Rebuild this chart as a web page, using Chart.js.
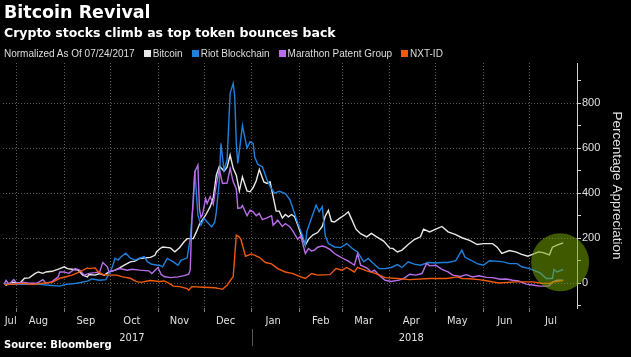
<!DOCTYPE html>
<html><head><meta charset="utf-8">
<script src="https://cdn.jsdelivr.net/npm/chart.js@4"></script>
<style>
html,body{margin:0;padding:0;background:#000;}
#wrap{position:relative;width:631px;height:357px;overflow:hidden;background:#000;}
canvas{position:absolute;left:0;top:0;}
.t{position:absolute;color:#fff;white-space:nowrap;}
#title{left:4px;top:2px;font:bold 17.5px 'DejaVu Sans',sans-serif;}
#sub{left:4px;top:25px;font:bold 12.5px 'DejaVu Sans',sans-serif;}
#legend{left:4px;top:46px;font:10px 'Liberation Sans',sans-serif;color:#ddd;display:flex;align-items:center;height:14px;}
#legend .sw{display:inline-block;width:7px;height:7px;margin:0 2px 0 9px;}
#source{left:4px;top:339px;font:bold 10px 'DejaVu Sans',sans-serif;}
</style></head><body>
<div id="wrap">
<canvas id="c" width="631" height="357"></canvas>
<div class="t" id="title">Bitcoin Revival</div>
<div class="t" id="sub">Crypto stocks climb as top token bounces back</div>
<div class="t" id="legend"></div>
<div class="t" id="source">Source: Bloomberg</div>
</div>
<script>
const START = '2017-07-24';
const legendNote = 'Normalized As Of 07/24/2017';
const seriesNames = ['Bitcoin', 'Riot Blockchain', 'Marathon Patent Group', 'NXT-ID'];
const seriesColors = ['#e8e8e8', '#1f80de', '#b86ee8', '#ef5a0c'];

// day offsets from START and % appreciation
const btcDays = [0,1,5,10,13,16,20,22,25,27,31,36,39,41,44,48,51,54,55,59,62,65,68,72,75,78,82,85,88,91,95,98,99,101,103,108,111,114,117,119,123,125,127,131,134,136,138,140,143,145,147,149,151,153,155,158,160,162,164,166,169,171,173,175,177,179,181,183,185,187,189,191,193,196,198,201,204,207,209,211,213,215,218,222,224,226,229,232,236,239,243,247,251,253,256,259,263,267,271,273,277,281,285,289,294,298,303,308,312,318,321,324,329,333,337,341,344,348,351,355,357,360,364];
const btcVals = [0,-8,4,0,22,24,44,50,44,50,53,65,73,65,62,58,36,28,39,36,43,36,50,58,68,80,95,98,110,112,115,124,139,152,161,157,140,158,184,198,198,228,262,302,340,380,480,520,498,515,569,510,480,410,472,410,406,425,455,505,450,443,450,385,320,320,290,305,295,305,295,260,221,169,195,215,225,252,298,324,275,272,287,305,317,287,240,220,206,221,204,187,156,155,139,147,172,194,206,240,228,240,252,228,216,202,190,172,176,176,160,132,145,139,128,120,128,139,136,126,160,169,179];

const riotDays = [0,5,14,23,29,36,40,47,54,57,62,66,70,72,74,76,79,82,85,88,91,93,96,99,101,103,106,110,113,115,119,121,123,124,126,128,130,132,135,137,138,140,141,143,145,147,149,150,151,152,155,158,160,162,163,165,168,171,173,176,179,183,186,188,191,194,196,197,200,203,205,207,209,211,215,219,223,227,230,232,234,237,240,244,248,252,256,259,263,267,271,276,281,285,289,294,298,300,304,308,312,316,322,325,329,334,337,342,349,353,357,358,360,364];
const riotVals = [0,-5,-4,-5,-9,-13,-5,0,9,19,13,16,68,111,103,118,133,111,103,111,118,96,84,81,80,73,110,95,80,102,113,198,361,500,302,258,287,272,250,272,317,458,621,502,547,843,887,828,621,532,700,600,628,621,560,528,517,460,430,400,408,398,370,330,268,215,169,230,290,347,317,340,210,176,161,158,176,152,139,117,95,110,90,65,65,70,83,70,95,85,80,92,90,92,92,100,147,115,102,87,80,100,97,95,87,87,73,65,46,21,21,61,50,61];

const marDays = [0,1,3,6,8,12,16,21,25,27,31,35,36,39,42,46,49,52,55,59,62,64,67,68,72,75,80,83,88,94,96,100,102,104,108,113,117,120,121,122,124,126,127,128,129,131,132,134,136,138,140,142,145,147,149,151,152,154,155,158,160,162,164,166,168,171,174,175,178,181,183,186,188,191,193,196,198,200,202,204,207,209,212,215,217,220,224,228,230,232,236,239,241,244,248,252,257,260,264,268,272,275,277,281,285,289,292,297,301,305,309,314,318,323,327,331,335,340,345,349,353,355,357,360,364];
const marVals = [0,13,-5,16,0,4,0,0,16,0,7,28,50,50,44,65,58,36,44,47,50,92,73,50,58,65,58,62,58,55,43,70,40,30,25,28,34,40,60,270,495,524,330,292,305,376,354,385,350,440,505,443,445,510,450,420,332,335,345,300,324,317,300,310,282,290,300,258,280,252,265,250,230,195,210,132,154,143,147,160,165,161,150,132,124,112,98,80,132,80,68,50,58,36,13,8,14,21,40,36,43,88,77,80,62,50,36,30,38,28,33,26,25,18,19,13,10,-4,-9,-13,-13,-11,5,13,13];

const nxtDays = [0,5,12,18,25,31,36,40,44,49,54,55,59,61,64,68,73,77,82,86,89,93,95,101,104,107,110,114,119,120,122,130,137,140,142,145,149,151,153,154,157,161,166,170,174,178,183,188,191,196,200,204,212,216,220,223,228,230,236,242,248,256,264,277,288,295,298,303,309,312,322,333,344,350,355,358,364];
const nxtVals = [-5,-5,0,-5,0,4,22,29,36,50,68,65,68,50,39,36,36,28,22,7,4,10,12,8,10,0,-13,-15,-24,-31,-15,-18,-20,-24,-27,-9,30,213,205,195,120,130,115,92,86,65,50,43,34,21,43,36,38,65,58,70,50,70,55,43,25,21,16,21,21,28,21,20,16,13,1,6,6,0,-1,6,12];

// highlight circle (data coords) and radius in px
const highlightPoint = {day: 362, value: 93, radius: 29};

// axis labels
const monthStarts = ['2017-08-01','2017-09-01','2017-10-01','2017-11-01','2017-12-01','2018-01-01','2018-02-01','2018-03-01','2018-04-01','2018-05-01','2018-06-01','2018-07-01'];
const monthLabelDates = ['2017-07-28','2017-08-15','2017-09-15','2017-10-15','2017-11-15','2017-12-15','2018-01-15','2018-02-15','2018-03-15','2018-04-15','2018-05-15','2018-06-15','2018-07-15'];
const monthLabels = ['Jul','Aug','Sep','Oct','Nov','Dec','Jan','Feb','Mar','Apr','May','Jun','Jul'];
const yearLabels = ['','','','2017','','','','','','2018','','',''];
const yearBreak = '2018-01-01';
const yAxisTitle = 'Percentage Appreciation';

const DAY = 86400000;
const t0 = Date.parse(START + 'T00:00:00Z');
const dayOf = s => Math.round((Date.parse(s + 'T00:00:00Z') - t0) / DAY);

const startDays = monthStarts.map(dayOf);
const labelDays = monthLabelDates.map(dayOf);
const labelMap = {};
labelDays.forEach((d, i) => { labelMap[d] = yearLabels[i] ? [monthLabels[i], yearLabels[i]] : monthLabels[i]; });
const startSet = new Set(startDays);

// legend
const lg = document.getElementById('legend');
const note = document.createElement('span'); note.textContent = legendNote; lg.appendChild(note);
seriesNames.forEach((n, i) => {
  const sw = document.createElement('span'); sw.className = 'sw'; sw.style.background = seriesColors[i];
  const tx = document.createElement('span'); tx.textContent = n;
  lg.appendChild(sw); lg.appendChild(tx);
});

const pts = (ds, vs) => ds.map((d, i) => ({x: d, y: vs[i]}));
const allSeries = [[btcDays, btcVals], [riotDays, riotVals], [marDays, marVals], [nxtDays, nxtVals]];

const datasets = allSeries.map((s, i) => ({
  type: 'line', label: seriesNames[i], data: pts(s[0], s[1]),
  borderColor: seriesColors[i], borderWidth: 1.4, pointRadius: 0, tension: 0, fill: false,
  order: 4 - i
}));
datasets.push({
  type: 'bubble', label: 'highlight',
  data: [{x: highlightPoint.day, y: highlightPoint.value, r: highlightPoint.radius}],
  backgroundColor: 'rgba(118,170,0,0.52)', borderWidth: 0, clip: false, order: 0
});

const yearSep = {
  id: 'yearSep',
  afterDraw(chart) {
    const xs = chart.scales.x, ctx = chart.ctx;
    const px = Math.round(xs.getPixelForValue(dayOf(yearBreak))) + 0.5;
    ctx.save(); ctx.strokeStyle = '#555'; ctx.lineWidth = 1;
    ctx.beginPath(); ctx.moveTo(px, xs.top + 21); ctx.lineTo(px, xs.top + 38); ctx.stroke(); ctx.restore();
  }
};

const NARROW = "'Liberation Sans Narrow','DejaVu Sans Condensed',sans-serif";
new Chart(document.getElementById('c'), {
  type: 'line',
  data: {datasets},
  options: {
    responsive: false, animation: false, events: [],
    layout: {autoPadding: false, padding: {left: 3, top: 63, right: 0, bottom: 0}},
    plugins: {legend: {display: false}, tooltip: {enabled: false}},
    scales: {
      x: {
        type: 'linear', min: -1, max: 373,
        afterBuildTicks(s) { s.ticks = [...startDays, ...labelDays].sort((a, b) => a - b).map(v => ({value: v})); },
        afterFit(s) { s.height = 49; s.paddingLeft = 0; s.paddingRight = 0; },
        border: {display: false, dash: [1, 2]},
        grid: {
          color: c => (c.tick && startSet.has(c.tick.value)) ? '#5c5c5c' : 'rgba(0,0,0,0)',
          tickColor: c => (c.tick && startSet.has(c.tick.value)) ? '#777' : 'rgba(0,0,0,0)',
          tickBorderDash: [], tickLength: 4, lineWidth: 1
        },
        ticks: {
          autoSkip: false, maxRotation: 0, minRotation: 0, padding: 1, color: '#e0e0e0',
          font: {family: NARROW, size: 11, lineHeight: 1.5},
          callback: v => labelMap[v] !== undefined ? labelMap[v] : ''
        }
      },
      y: {
        type: 'linear', position: 'right', min: -110, max: 978,
        afterFit(s) { s.width = 54; },
        border: {display: true, color: '#cfcfcf', width: 1, dash: [1, 2]},
        grid: {
          color: c => (c.tick && c.tick.value % 200 === 0) ? '#5c5c5c' : 'rgba(0,0,0,0)',
          tickColor: '#cfcfcf', tickBorderDash: [], tickLength: 4, lineWidth: 1
        },
        ticks: {
          stepSize: 100, includeBounds: false, padding: 1, color: '#e0e0e0',
          font: {family: "'Liberation Sans',sans-serif", size: 11},
          callback: v => v % 200 === 0 ? String(v) : ''
        },
        title: {
          display: true, text: yAxisTitle, color: '#e0e0e0',
          font: {family: "'Liberation Sans',sans-serif", size: 13.5}, padding: {top: 6, bottom: 0}
        }
      }
    }
  },
  plugins: [yearSep]
});
</script>
</body></html>
